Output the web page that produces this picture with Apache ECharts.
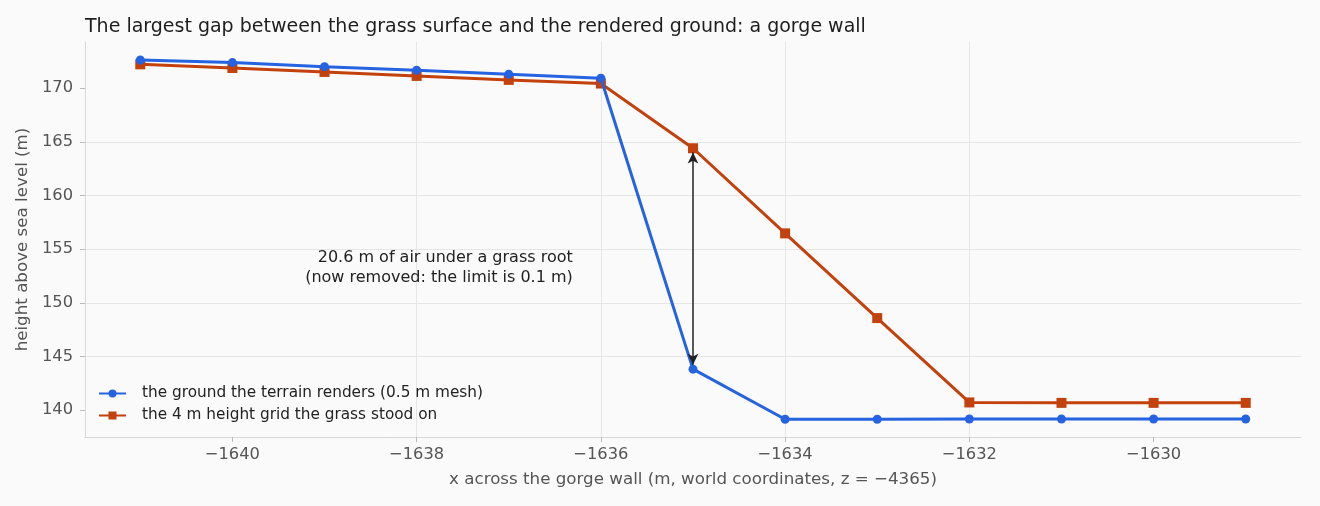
<!DOCTYPE html>
<html>
<head>
<meta charset="utf-8">
<script src="https://cdn.jsdelivr.net/npm/echarts@6/dist/echarts.min.js"></script>
<style>
html, body { margin: 0; padding: 0; background: #fafafa; }
#chart { width: 1320px; height: 506px; }
</style>
</head>
<body>
<div id="chart"></div>
<script>
// x positions across the wall (m)
var xs = [-1641, -1640, -1639, -1638, -1637, -1636, -1635, -1634, -1633, -1632, -1631, -1630, -1629];
// rendered ground (0.5 m mesh)
var meshHeight = [172.62, 172.38, 172.0, 171.67, 171.3, 170.93, 143.82, 139.15, 139.15, 139.18, 139.18, 139.18, 139.18];
// 4 m height grid
var gridHeight = [172.22, 171.88, 171.51, 171.14, 170.77, 170.43, 164.4, 156.47, 148.58, 140.72, 140.68, 140.68, 140.68];
var xTicks = [-1640, -1638, -1636, -1634, -1632, -1630];
var yTicks = [140, 145, 150, 155, 160, 165, 170];

var fontFam = "'DejaVu Sans', sans-serif";
var blue = '#2563e0';
var orange = '#c2410c';

function pairs(a, b) {
    var out = [];
    for (var i = 0; i < a.length; i++) out.push([a[i], b[i]]);
    return out;
}

// find the biggest gap for the arrow
var gapIdx = 0;
for (var i = 0; i < xs.length; i++) {
    if (gridHeight[i] - meshHeight[i] > gridHeight[gapIdx] - meshHeight[gapIdx]) gapIdx = i;
}
var gap = (gridHeight[gapIdx] - meshHeight[gapIdx]).toFixed(1);

var myChart = echarts.init(document.getElementById('chart'));

var option = {
    backgroundColor: '#fafafa',
    animation: false,
    textStyle: { fontFamily: fontFam },
    title: {
        text: 'The largest gap between the grass surface and the rendered ground: a gorge wall',
        left: 80,
        top: 13,
        textStyle: { fontFamily: fontFam, fontSize: 19, fontWeight: 'normal', color: '#1e1e1e' }
    },
    grid: { left: 85, right: 19, top: 42, bottom: 69, containLabel: false },
    legend: {
        orient: 'vertical',
        left: 93,
        top: 381,
        itemWidth: 27,
        itemHeight: 10,
        itemGap: 7,
        textStyle: { fontFamily: fontFam, fontSize: 15.3, color: '#222', padding: [0, 0, 0, 11] },
        data: ['the ground the terrain renders (0.5 m mesh)', 'the 4 m height grid the grass stood on']
    },
    xAxis: {
        type: 'value',
        min: -1641.6,
        max: -1628.4,
        interval: 2,
        name: 'x across the gorge wall (m, world coordinates, z = \u22124365)',
        nameLocation: 'middle',
        nameGap: 34,
        nameTextStyle: { fontFamily: fontFam, fontSize: 16.7, color: '#555' },
        axisLine: { show: true, lineStyle: { color: '#d8d8d8' } },
        axisTick: { show: true, length: 5, lineStyle: { color: '#bbb' }, customValues: xTicks },
        axisLabel: {
            fontFamily: fontFam, fontSize: 16.3, color: '#555', margin: 10,
            customValues: xTicks,
            formatter: function (v) { return String(v).replace('-', '\u2212'); }
        },
        splitLine: { show: true, showMinLine: false, showMaxLine: false, lineStyle: { color: '#e6e6e6' } }
    },
    yAxis: {
        type: 'value',
        min: 137.5,
        max: 174.3,
        interval: 5,
        name: 'height above sea level (m)',
        nameLocation: 'middle',
        nameGap: 47,
        nameTextStyle: { fontFamily: fontFam, fontSize: 16.7, color: '#555' },
        axisLine: { show: true, lineStyle: { color: '#d8d8d8' } },
        axisTick: { show: true, length: 5, lineStyle: { color: '#bbb' }, customValues: yTicks },
        axisLabel: { fontFamily: fontFam, fontSize: 16.3, color: '#555', margin: 12, customValues: yTicks },
        splitLine: { show: true, showMinLine: false, showMaxLine: false, lineStyle: { color: '#e6e6e6' } }
    },
    series: [
        {
            name: 'the ground the terrain renders (0.5 m mesh)',
            type: 'line',
            data: pairs(xs, meshHeight),
            symbol: 'circle',
            symbolSize: 9,
            lineStyle: { width: 3, color: blue },
            itemStyle: { color: blue },
            z: 3
        },
        {
            name: 'the 4 m height grid the grass stood on',
            type: 'line',
            data: pairs(xs, gridHeight),
            symbol: 'rect',
            symbolSize: 10,
            lineStyle: { width: 3, color: orange },
            itemStyle: { color: orange },
            z: 2,
            markLine: {
                silent: true,
                symbol: ['arrow', 'arrow'],
                symbolSize: [8, 11],
                label: { show: false },
                lineStyle: { color: '#222', width: 1.5, type: 'solid' },
                data: [[
                    { coord: [xs[gapIdx], gridHeight[gapIdx] - 0.4] },
                    { coord: [xs[gapIdx], meshHeight[gapIdx] + 0.4] }
                ]]
            },
            markPoint: {
                silent: true,
                symbol: 'circle',
                symbolSize: 1,
                itemStyle: { color: 'rgba(0,0,0,0)' },
                data: [{
                    coord: [-1636.3, 153.2],
                    label: {
                        show: true,
                        position: [0, 0],
                        align: 'right',
                        verticalAlign: 'middle',
                        lineHeight: 19.5,
                        fontFamily: fontFam,
                        fontSize: 16,
                        color: '#222',
                        formatter: '{a|' + gap + ' m of air under a grass root}\n{a|(now removed: the limit is 0.1 m)}',
                        rich: { a: { fontFamily: fontFam, fontSize: 16, color: '#222', align: 'right', lineHeight: 19.5 } }
                    }
                }]
            }
        }
    ]
};

myChart.setOption(option, true);
</script>
</body>
</html>
